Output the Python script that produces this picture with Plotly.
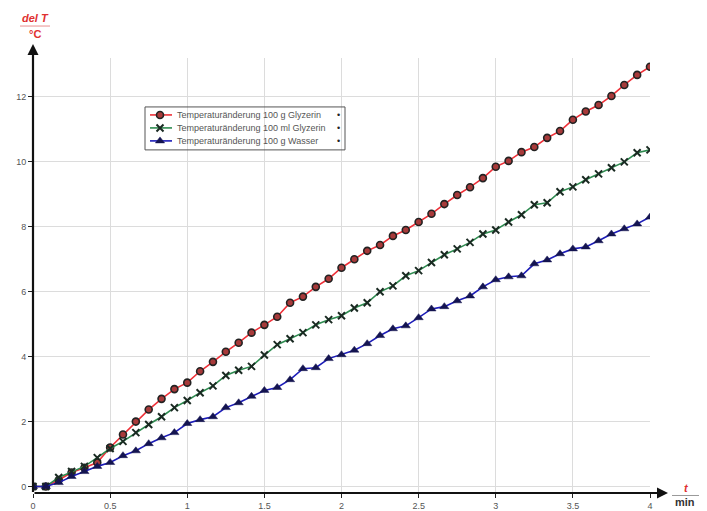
import plotly.graph_objects as go

# time in seconds (5 s sampling), converted to minutes
t_sec = [0, 5, 10, 15, 20, 25, 30, 35, 40, 45, 50, 55, 60, 65, 70, 75, 80, 85, 90, 95,
         100, 105, 110, 115, 120, 125, 130, 135, 140, 145, 150, 155, 160, 165, 170, 175,
         180, 185, 190, 195, 200, 205, 210, 215, 220, 225, 230, 235, 240]
t_min = [s / 60 for s in t_sec]

glyzerin_100g = [0.0, 0.0, 0.2, 0.43, 0.58, 0.74, 1.2, 1.6, 2.0, 2.37, 2.7, 3.0, 3.2,
                 3.55, 3.84, 4.15, 4.43, 4.74, 4.98, 5.23, 5.66, 5.85, 6.15, 6.4, 6.74,
                 7.0, 7.26, 7.44, 7.72, 7.9, 8.15, 8.4, 8.7, 8.98, 9.22, 9.5, 9.85, 10.03,
                 10.3, 10.46, 10.74, 10.95, 11.3, 11.55, 11.75, 12.03, 12.37, 12.68, 12.93]
glyzerin_100ml = [0.0, 0.0, 0.28, 0.46, 0.62, 0.89, 1.17, 1.39, 1.66, 1.91, 2.15, 2.43,
                  2.65, 2.89, 3.1, 3.42, 3.58, 3.7, 4.05, 4.37, 4.55, 4.74, 4.98, 5.14,
                  5.26, 5.5, 5.66, 6.0, 6.18, 6.49, 6.65, 6.9, 7.14, 7.32, 7.52, 7.78, 7.9,
                  8.15, 8.37, 8.68, 8.74, 9.08, 9.23, 9.45, 9.63, 9.82, 10.0, 10.28, 10.37]
wasser_100g = [0.0, 0.0, 0.12, 0.31, 0.46, 0.62, 0.74, 0.95, 1.1, 1.32, 1.5, 1.66, 1.94,
               2.06, 2.15, 2.43, 2.58, 2.78, 2.96, 3.05, 3.29, 3.63, 3.66, 3.94, 4.06, 4.2,
               4.4, 4.65, 4.86, 4.95, 5.2, 5.47, 5.54, 5.72, 5.87, 6.15, 6.37, 6.46, 6.49,
               6.86, 6.98, 7.17, 7.32, 7.38, 7.57, 7.78, 7.94, 8.09, 8.3]

names = ["Temperaturänderung 100 g Glyzerin",
         "Temperaturänderung 100 ml Glyzerin",
         "Temperaturänderung 100 g Wasser"]

x_ticks = [0, 0.5, 1, 1.5, 2, 2.5, 3, 3.5, 4]
x_tick_text = ["0", "0.5", "1", "1.5", "2", "2.5", "3", "3.5", "4"]
y_ticks = [0, 2, 4, 6, 8, 10, 12]

W, H = 707, 511
L, R, T, B = 33, 57, 58, 17.5
PW, PH = W - L - R, H - T - B


def px(xp):
    return (xp - L) / PW


def py(yp):
    return (H - B - yp) / PH


styles = [
    dict(line=dict(color="#ee3038", width=1.6),
         marker=dict(symbol="circle", size=7, color="#a83a3a",
                     line=dict(color="#222222", width=1.6))),
    dict(line=dict(color="#2e8c50", width=1.6),
         marker=dict(symbol="x-thin", size=7, color="#1a2a22",
                     line=dict(color="#1a2a22", width=2))),
    dict(line=dict(color="#1c1cb8", width=1.6),
         marker=dict(symbol="triangle-up", size=8, color="#141450",
                     line=dict(color="#141450", width=0.5))),
]
series = [glyzerin_100g, glyzerin_100ml, wasser_100g]

fig = go.Figure()
for nm, vals, st in zip(names, series, styles):
    fig.add_trace(go.Scatter(x=t_min, y=vals, name=nm, mode="lines+markers",
                             showlegend=False, hoverinfo="x+y+name", **st))

# manual legend (pixel-coordinate overlay axes)
leg_rows = [115, 128, 141]
for nm, yy, st in zip(names, leg_rows, styles):
    fig.add_trace(go.Scatter(x=[150, 172], y=[yy, yy], mode="lines",
                             line=st["line"], xaxis="x2", yaxis="y2",
                             showlegend=False, hoverinfo="skip"))
    fig.add_trace(go.Scatter(x=[160], y=[yy], mode="markers",
                             marker=st["marker"], xaxis="x2", yaxis="y2",
                             showlegend=False, hoverinfo="skip"))

annotations = [
    # axis arrows (tail offsets in pixels)
    dict(x=px(668), y=0, ax=-(668 - L), ay=0, xref="paper", yref="paper",
         axref="pixel", ayref="pixel", showarrow=True, arrowhead=2,
         arrowsize=1, arrowwidth=2.2, arrowcolor="#111111", text=""),
    dict(x=0, y=py(44), ax=0, ay=(H - B - 44), xref="paper", yref="paper",
         axref="pixel", ayref="pixel", showarrow=True, arrowhead=2,
         arrowsize=1, arrowwidth=2.2, arrowcolor="#111111", text=""),
    # axis titles
    dict(x=px(35), y=py(18), xref="paper", yref="paper", showarrow=False,
         xanchor="center", yanchor="middle",
         text="<b><i>del T</i></b>", font=dict(color="#e03030", size=11,
                                             family="Liberation Sans")),
    dict(x=px(35), y=py(34), xref="paper", yref="paper", showarrow=False,
         xanchor="center", yanchor="middle",
         text="<b>°C</b>", font=dict(color="#e03030", size=11,
                                    family="Liberation Sans")),
    dict(x=px(686), y=py(488), xref="paper", yref="paper", showarrow=False,
         xanchor="center", yanchor="middle",
         text="<b><i>t</i></b>", font=dict(color="#e03030", size=11,
                                         family="Liberation Sans")),
    dict(x=px(685), y=py(503), xref="paper", yref="paper", showarrow=False,
         xanchor="center", yanchor="middle",
         text="<b>min</b>", font=dict(color="#333333", size=11,
                                     family="Liberation Sans")),
]
for nm, yy in zip(names, leg_rows):
    annotations.append(dict(x=px(175), y=py(yy), xref="paper", yref="paper",
                            showarrow=False, text=nm, xanchor="left",
                            yanchor="middle",
                            font=dict(color="#555555", size=9)))
    annotations.append(dict(x=px(338), y=py(yy), xref="paper", yref="paper",
                            showarrow=False, text="•", xanchor="center",
                            yanchor="middle",
                            font=dict(color="#222222", size=9)))

shapes = [
    dict(type="line", xref="paper", yref="paper", x0=px(20), x1=px(50),
         y0=py(26), y1=py(26), line=dict(color="#e89090", width=1)),
    dict(type="line", xref="paper", yref="paper", x0=px(672), x1=px(699),
         y0=py(496), y1=py(496), line=dict(color="#999999", width=1)),
    dict(type="rect", xref="paper", yref="paper", x0=px(145), x1=px(345),
         y0=py(107), y1=py(150), line=dict(color="#555555", width=1),
         fillcolor="rgba(255,255,255,0)"),
]

fig.update_layout(
    width=W, height=H,
    margin=dict(l=L, r=R, t=T, b=B, pad=0, autoexpand=False),
    paper_bgcolor="white", plot_bgcolor="white",
    font=dict(family="Liberation Sans", size=9, color="#444444"),
    showlegend=False,
    annotations=annotations,
    shapes=shapes,
    xaxis=dict(range=[0, 4], tickvals=x_ticks, ticktext=x_tick_text,
               showgrid=True, gridcolor="#dcdcdc", gridwidth=1,
               zeroline=False, showline=False, ticks="outside", ticklen=4,
               tickcolor="#222222", tickfont=dict(size=9, color="#555555"),
               automargin=False),
    yaxis=dict(range=[-0.2, 13.2], tickvals=y_ticks,
               showgrid=True, gridcolor="#dcdcdc", gridwidth=1,
               zeroline=False, showline=False, ticks="outside", ticklen=4,
               tickcolor="#222222", tickfont=dict(size=9, color="#555555"),
               automargin=False),
    xaxis2=dict(overlaying="x", range=[L, W - R], visible=False,
                fixedrange=True, automargin=False),
    yaxis2=dict(overlaying="y", range=[H - B, T], visible=False,
                fixedrange=True, automargin=False),
)

fig.write_html("out.html", config={"displayModeBar": False},
               post_script="document.body.style.margin='0px';")
